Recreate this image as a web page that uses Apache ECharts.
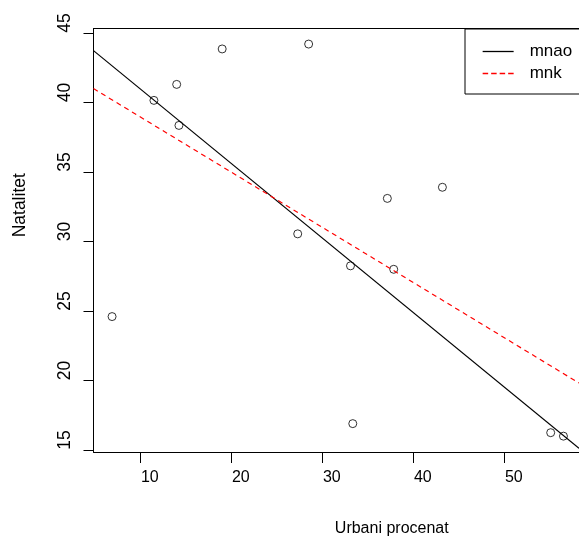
<!DOCTYPE html>
<html>
<head>
<meta charset="utf-8">
<script src="https://cdn.jsdelivr.net/npm/echarts@6/dist/echarts.min.js"></script>
<style>
  html, body { margin: 0; padding: 0; background: #fff; }
  #main { width: 579px; height: 538px; }
</style>
</head>
<body>
<div id="main"></div>
<script>
// urbani procenat vs natalitet
var urbani = [6.9, 11.5, 14.0, 14.25, 19.0, 28.5, 27.3, 33.1, 37.15, 37.85, 43.2, 33.35, 55.1, 56.5];
var natalitet = [24.6, 40.15, 41.3, 38.35, 43.85, 44.2, 30.55, 28.25, 33.1, 28.0, 33.9, 16.9, 16.25, 16.0];

// fitted lines, endpoints at the plot edges
var mnaoX = [4.86, 58.21];
var mnaoY = [43.73, 15.12];
var mnkX = [4.86, 58.21];
var mnkY = [41.0, 19.82];

var xTicks = [10, 20, 30, 40, 50];
var yTicks = [15, 20, 25, 30, 35, 40, 45];

function pairs(xs, ys) {
    return xs.map(function (x, i) { return [x, ys[i]]; });
}

var font = 'Liberation Sans, Arial, sans-serif';

var myChart = echarts.init(document.getElementById('main'));
option = {
    backgroundColor: '#ffffff',
    animation: false,
    grid: {
        left: 93.5,
        top: 28.5,
        right: 0,
        bottom: 86,
        containLabel: false,
        outerBoundsMode: 'none'
    },
    legend: {
        data: [
            {name: 'mnao', lineStyle: {color: '#000000', type: 'solid'}},
            {name: 'mnk', lineStyle: {color: '#ff0000', type: [5.5, 3]}}
        ],
        orient: 'vertical',
        left: 465,
        top: 29,
        padding: [14, 30, 12, 17],
        itemWidth: 31,
        itemHeight: 14,
        itemGap: 5,
        borderColor: '#000',
        borderWidth: 1,
        // hide the marker dot, keep the line sample
        itemStyle: {opacity: 0},
        lineStyle: {width: 1.3},
        textStyle: {
            fontFamily: font,
            fontSize: 17,
            color: '#000',
            padding: [0, 0, 0, 11]
        }
    },
    xAxis: [
        {
            type: 'value',
            min: 4.86,
            max: 58.21,
            name: 'Urbani procenat',
            nameLocation: 'middle',
            nameGap: 69,
            nameTextStyle: {
                fontFamily: font,
                fontSize: 16,
                color: '#000',
                padding: [0, 0, 0, 111]
            },
            splitLine: {show: false},
            axisLine: {lineStyle: {color: '#000', width: 1}},
            axisTick: {
                show: true,
                length: 11,
                customValues: xTicks,
                lineStyle: {color: '#000'}
            },
            axisLabel: {
                customValues: xTicks,
                margin: 18,
                fontFamily: font,
                fontSize: 16,
                color: '#000',
                padding: [0, 0, 0, 19]
            }
        },
        {
            type: 'value',
            position: 'top',
            min: 4.86,
            max: 58.21,
            splitLine: {show: false},
            axisLine: {show: true, lineStyle: {color: '#000', width: 1}},
            axisTick: {show: false},
            axisLabel: {show: false}
        }
    ],
    yAxis: {
        type: 'value',
        min: 14.86,
        max: 45.32,
        name: 'Natalitet',
        nameLocation: 'middle',
        nameGap: 64,
        nameTextStyle: {
            fontFamily: font,
            fontSize: 17.5,
            color: '#000',
            padding: [0, 0, 0, 70]
        },
        splitLine: {show: false},
        axisLine: {show: true, lineStyle: {color: '#000', width: 1}},
        axisTick: {
            show: true,
            length: 10,
            customValues: yTicks,
            lineStyle: {color: '#000'}
        },
        axisLabel: {
            customValues: yTicks,
            rotate: 90,
            margin: 19,
            fontFamily: font,
            fontSize: 17.5,
            color: '#000',
            padding: [0, 0, 0, 20]
        }
    },
    series: [
        {
            name: 'tacke',
            type: 'scatter',
            data: pairs(urbani, natalitet),
            symbol: 'circle',
            symbolSize: 8,
            itemStyle: {color: 'rgba(0,0,0,0)', borderColor: '#000', borderWidth: 1}
        },
        {
            name: 'mnao',
            type: 'line',
            data: pairs(mnaoX, mnaoY),
            symbol: 'none',
            itemStyle: {color: '#000'},
            lineStyle: {color: '#000', width: 1.2}
        },
        {
            name: 'mnk',
            type: 'line',
            data: pairs(mnkX, mnkY),
            symbol: 'none',
            itemStyle: {color: '#ff0000'},
            lineStyle: {color: '#ff0000', width: 1.2, type: [5, 4]}
        }
    ]
};
myChart.setOption(option);
</script>
</body>
</html>
